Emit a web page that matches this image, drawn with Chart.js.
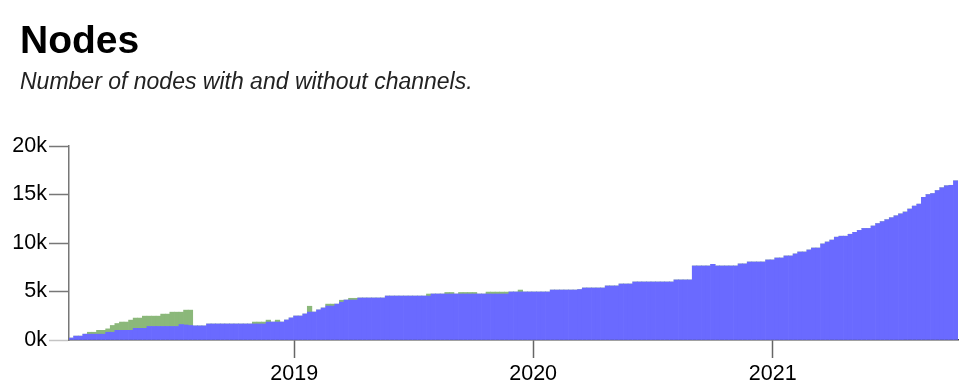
<!DOCTYPE html>
<html><head><meta charset="utf-8">
<script src="https://cdn.jsdelivr.net/npm/chart.js@4.4.0/dist/chart.umd.min.js"></script>
<style>
html,body{margin:0;padding:0;background:#fff;}
#wrap{position:relative;width:970px;height:392px;overflow:hidden;}
canvas{position:absolute;left:0;top:0;}
#title{position:absolute;left:20px;top:20px;font:bold 39px 'Liberation Sans',Arial,Helvetica,sans-serif;line-height:39px;color:#000;white-space:nowrap;}
#sub{position:absolute;left:20px;top:69.5px;font:italic 23px 'Liberation Sans',Arial,Helvetica,sans-serif;line-height:23px;color:#222;white-space:nowrap;}
</style></head><body>
<div id="wrap">
<canvas id="c" width="970" height="392"></canvas>
<div id="title">Nodes</div>
<div id="sub">Number of nodes with and without channels.</div>
</div>
<script>
// Weekly snapshots starting at this date
const startDate = '2018-01-22';
const yearTicks = ['2019', '2020', '2021'];
const yTickLabels = ['0k', '5k', '10k', '15k', '20k'];

// Nodes with channels (weekly)
const withChannels = [
  200, 400, 400, 600, 600, 600, 600, 600, 800, 800,
  1000, 1000, 1000, 1000, 1200, 1200, 1200, 1400, 1400, 1400,
  1400, 1400, 1400, 1400, 1600, 1550, 1500, 1450, 1450, 1450,
  1650, 1650, 1650, 1650, 1650, 1650, 1650, 1650, 1650, 1650,
  1650, 1650, 1650, 1850, 1850, 1850, 1850, 2060, 2270, 2470,
  2470, 2680, 2880, 2880, 3100, 3300, 3500, 3500, 3700, 3900,
  4120, 4120, 4120, 4330, 4330, 4330, 4330, 4330, 4330, 4530,
  4530, 4530, 4530, 4530, 4530, 4530, 4530, 4530, 4530, 4740,
  4740, 4740, 4740, 4740, 4740, 4740, 4740, 4740, 4740, 4740,
  4740, 4740, 4740, 4740, 4740, 4740, 4950, 4950, 4950, 4950,
  4950, 4950, 4950, 4950, 4950, 5150, 5150, 5150, 5150, 5150,
  5150, 5200, 5360, 5360, 5360, 5360, 5360, 5570, 5570, 5570,
  5770, 5770, 5770, 5980, 5980, 5980, 5980, 5980, 5980, 5980,
  5980, 5980, 6190, 6190, 6190, 6190, 7630, 7630, 7630, 7630,
  7800, 7630, 7630, 7630, 7630, 7630, 7840, 7840, 8040, 8040,
  8040, 8040, 8250, 8250, 8450, 8450, 8660, 8660, 8870, 9070,
  9070, 9280, 9480, 9480, 9900, 10100, 10300, 10600, 10700, 10700,
  10900, 11100, 11300, 11500, 11500, 11750, 12000, 12200, 12400, 12600,
  12800, 13000, 13200, 13500, 13800, 14000, 14700, 15000, 15100, 15400,
  15700, 15900, 15950, 16400
];

// Nodes without channels (weekly)
const withoutChannels = [
  0, 0, 0, 0, 200, 200, 400, 400, 350, 700,
  700, 850, 850, 1050, 1060, 1060, 1260, 1060, 1060, 1060,
  1270, 1270, 1470, 1470, 1270, 1530, 1580, 0, 0, 0,
  0, 0, 0, 0, 0, 0, 0, 0, 0, 0,
  200, 200, 200, 200, 0, 200, 0, 0, 0, 0,
  0, 0, 600, 0, 0, 0, 200, 200, 0, 200,
  0, 180, 180, 0, 0, 0, 0, 0, 0, 0,
  0, 0, 0, 0, 0, 0, 0, 0, 210, 0,
  0, 0, 160, 160, 0, 160, 160, 160, 160, 0,
  0, 200, 200, 200, 200, 200, 0, 0, 200, 0,
  0, 0, 0, 0, 0, 0, 0, 0, 0, 0,
  0, 0, 0, 0, 0, 0, 0, 0, 0, 0,
  0, 0, 0, 0, 0, 0, 0, 0, 0, 0,
  0, 0, 0, 0, 0, 0, 0, 0, 0, 0,
  0, 0, 0, 0, 0, 0, 0, 0, 0, 0,
  0, 0, 0, 0, 0, 0, 0, 0, 0, 0,
  0, 0, 0, 0, 0, 0, 0, 0, 0, 0,
  0, 0, 0, 0, 0, 0, 0, 0, 0, 0,
  0, 0, 0, 0, 0, 0, 0, 0, 0, 0,
  0, 0, 0, 0
];

const DAY = 86400000, WEEK = 7 * DAY;
const t0 = Date.parse(startDate + 'T00:00:00Z');
const weekCenters = withChannels.map((_, i) => t0 + i * WEEK + WEEK / 2);
const tEnd = t0 + withChannels.length * WEEK;

const FONT = "'Liberation Sans', Arial, Helvetica, sans-serif";

new Chart(document.getElementById('c'), {
  type: 'bar',
  data: {
    datasets: [
      {
        label: 'With channels',
        data: weekCenters.map((x, i) => ({ x, y: withChannels[i] })),
        backgroundColor: 'rgb(106,106,255)',
        borderWidth: 0,
        barPercentage: 1,
        categoryPercentage: 1
      },
      {
        label: 'Without channels',
        data: weekCenters.map((x, i) => ({ x, y: withoutChannels[i] })),
        backgroundColor: 'rgb(139,184,122)',
        borderWidth: 0,
        barPercentage: 1,
        categoryPercentage: 1
      }
    ]
  },
  options: {
    responsive: false,
    animation: false,
    devicePixelRatio: 1,
    layout: { padding: { top: 146, right: 12, left: 0, bottom: 0 } },
    plugins: { legend: { display: false }, tooltip: { enabled: false }, title: { display: false } },
    events: [],
    scales: {
      x: {
        type: 'linear',
        stacked: true,
        offset: false,
        min: t0,
        max: tEnd,
        afterBuildTicks: (scale) => {
          scale.ticks = yearTicks.map(y => ({ value: Date.UTC(+y, 0, 1) }));
        },
        afterFit: (scale) => { scale.height = 52; },
        ticks: {
          autoSkip: false,
          maxRotation: 0,
          padding: 3,
          color: '#000',
          font: { family: FONT, size: 21.5 },
          callback: (v, i) => yearTicks[i]
        },
        grid: {
          offset: false,
          drawOnChartArea: false,
          drawTicks: true,
          tickLength: 18,
          tickColor: '#666',
          tickWidth: 1.5
        },
        border: { display: true, color: '#444', width: 1.5 }
      },
      y: {
        stacked: true,
        min: 0,
        max: 20000,
        afterBuildTicks: (scale) => {
          scale.ticks = yTickLabels.map((_, i) => ({ value: i * 5000 }));
        },
        afterFit: (scale) => { scale.width = 69; },
        ticks: {
          padding: 2,
          color: '#000',
          font: { family: FONT, size: 21.5 },
          callback: (v, i) => yTickLabels[i]
        },
        grid: {
          drawOnChartArea: false,
          drawTicks: true,
          tickLength: 20,
          tickColor: (ctx) => (ctx.tick && ctx.tick.value === 0 ? '#c4c4c4' : '#777'),
          tickWidth: 1.5
        },
        border: { display: true, color: '#777', width: 1.5 }
      }
    }
  }
});
</script>
</body></html>
